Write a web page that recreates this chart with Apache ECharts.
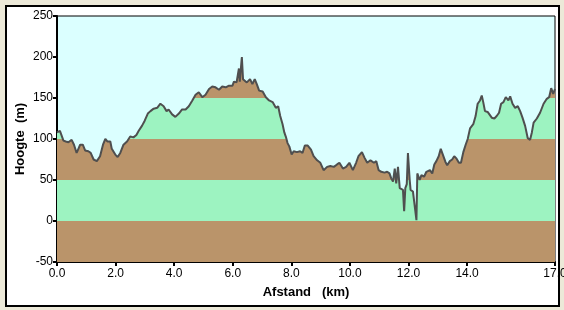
<!DOCTYPE html>
<html>
<head>
<meta charset="utf-8">
<script src="https://cdn.jsdelivr.net/npm/echarts@6/dist/echarts.min.js"></script>
<style>
html,body{margin:0;padding:0;background:#ECE9D8;}
#frame{position:absolute;left:5px;top:5px;width:551px;height:298px;border:2px solid #000;background:#fff;}
#chart{position:absolute;left:0;top:0;width:564px;height:310px;}
</style>
</head>
<body>
<div id="frame"></div>
<div id="chart"></div>
<script>
// distance along route (km)
const distances = [
0.00,0.10,0.16,0.22,0.30,0.39,0.50,0.58,0.67,0.73,0.79,0.88,0.96,1.07,1.15,1.25,1.36,1.47,1.57,1.65,
1.72,1.82,1.87,1.99,2.07,2.16,2.27,2.39,2.50,2.61,2.71,2.79,2.90,2.99,3.10,3.19,3.30,3.42,3.53,3.64,
3.74,3.81,3.93,4.04,4.16,4.27,4.39,4.50,4.62,4.73,4.84,4.96,5.07,5.19,5.30,5.41,5.53,5.64,5.76,5.87,
5.99,6.04,6.13,6.18,6.21,6.24,6.27,6.31,6.35,6.39,6.48,6.59,6.67,6.75,6.82,6.90,7.02,7.13,7.24,7.36,
7.47,7.55,7.62,7.70,7.76,7.81,7.87,7.93,8.01,8.08,8.19,8.30,8.38,8.46,8.56,8.67,8.76,8.88,8.99,9.10,
9.22,9.33,9.45,9.56,9.64,9.76,9.87,9.98,10.10,10.21,10.29,10.41,10.50,10.59,10.70,10.82,10.90,10.98,11.07,11.18,
11.27,11.35,11.41,11.47,11.53,11.58,11.64,11.70,11.75,11.81,11.85,11.89,11.94,11.98,12.04,12.07,12.15,12.21,12.27,12.30,
12.38,12.44,12.53,12.61,12.73,12.81,12.88,12.95,13.03,13.10,13.18,13.26,13.32,13.41,13.49,13.56,13.64,13.72,13.79,13.87,
13.95,14.02,14.10,14.21,14.29,14.36,14.44,14.50,14.55,14.61,14.70,14.76,14.84,14.93,15.01,15.09,15.16,15.24,15.32,15.41,
15.47,15.55,15.64,15.73,15.81,15.89,15.98,16.07,16.15,16.21,16.27,16.38,16.49,16.61,16.72,16.80,16.87,16.94,17.00
];
// elevation (m)
const heights = [
108,110,110,98,97,96,99,93,83,88,93,93,86,85,83,75,73,79,93,100,
97,97,88,81,78,83,93,97,103,102,105,110,116,122,131,134,137,138,143,140,
134,136,130,127,131,136,136,140,147,154,157,151,154,161,164,163,160,164,163,165,
165,170,169,170,186,170,171,200,173,173,169,173,167,173,167,159,158,151,147,145,
138,140,128,118,108,103,95,91,81,85,84,85,83,92,92,87,79,74,71,62,
66,67,66,69,71,64,66,71,62,71,79,84,77,71,74,71,73,62,60,59,
60,58,52,48,64,46,66,40,38,38,12,40,45,83,50,38,36,38,1,58,
50,56,54,60,62,58,69,73,79,88,80,72,68,73,75,79,76,71,71,84,
93,100,113,118,128,143,147,153,145,134,133,134,126,125,128,132,143,145,151,147,
152,143,138,140,134,126,116,101,99,108,120,125,132,143,149,151,162,155,161
];
const xTickValues = [0,2,4,6,8,10,12,14,17];
const yBandEdges = [-50,0,50,100,150,200,250];

const BROWN = '#BA946A', GREEN = '#9DF3C1', CYAN = '#DBFFFF';
const points = distances.map((d,i)=>[d, heights[i]]);
const pieces = [];
for (let i=0;i<yBandEdges.length-1;i++){
  pieces.push({gte: yBandEdges[i], lt: yBandEdges[i+1], color: i%2===0 ? BROWN : GREEN});
}
pieces[0] = {lt: yBandEdges[1], color: BROWN};
pieces[pieces.length-1] = {gte: yBandEdges[yBandEdges.length-2], color: GREEN};

const chart = echarts.init(document.getElementById('chart'), null, {renderer:'canvas'});
const font = '"Liberation Sans", Arial, sans-serif';
chart.setOption({
  backgroundColor: 'transparent',
  animation: false,
  grid: {left:57, right:9, top:16, bottom:48, outerBoundsMode:'none', containLabel:false,
         show:true, backgroundColor: CYAN, borderColor:'#000', borderWidth:1},
  visualMap: {type:'piecewise', show:false, seriesIndex:0, dimension:1, pieces: pieces},
  xAxis: {
    type:'value', min:0, max:17,
    name:'Afstand   (km)', nameLocation:'middle', nameGap:24,
    nameTextStyle:{fontFamily:font, fontWeight:'bold', fontSize:13, color:'#000'},
    axisLine:{show:true, onZero:false, lineStyle:{color:'#000', width:2}},
    axisTick:{show:true, length:4, lineStyle:{color:'#000', width:2}, customValues: xTickValues},
    axisLabel:{fontFamily:font, fontSize:12, color:'#000', margin:6, customValues: xTickValues,
      formatter: v => v.toFixed(1)},
    splitLine:{show:false}
  },
  yAxis: {
    type:'value', min:-50, max:250, interval:50,
    name:'Hoogte  (m)', nameLocation:'middle', nameGap:30, nameMoveOverlap:false,
    nameTextStyle:{fontFamily:font, fontWeight:'bold', fontSize:13, color:'#000'},
    axisLine:{show:true, onZero:false, lineStyle:{color:'#000', width:2}},
    axisTick:{show:true, length:4, lineStyle:{color:'#000', width:2}},
    axisLabel:{fontFamily:font, fontSize:12, color:'#000', margin:4},
    splitLine:{show:false}
  },
  series: [
    {type:'line', data: points, showSymbol:false, lineStyle:{width:0}, areaStyle:{opacity:1, origin:'start'}, silent:true},
    {type:'line', data: points, showSymbol:false, lineStyle:{width:2, color:'#4F4F4F'}, itemStyle:{color:'#4F4F4F'}, silent:true}
  ]
});
</script>
</body>
</html>
